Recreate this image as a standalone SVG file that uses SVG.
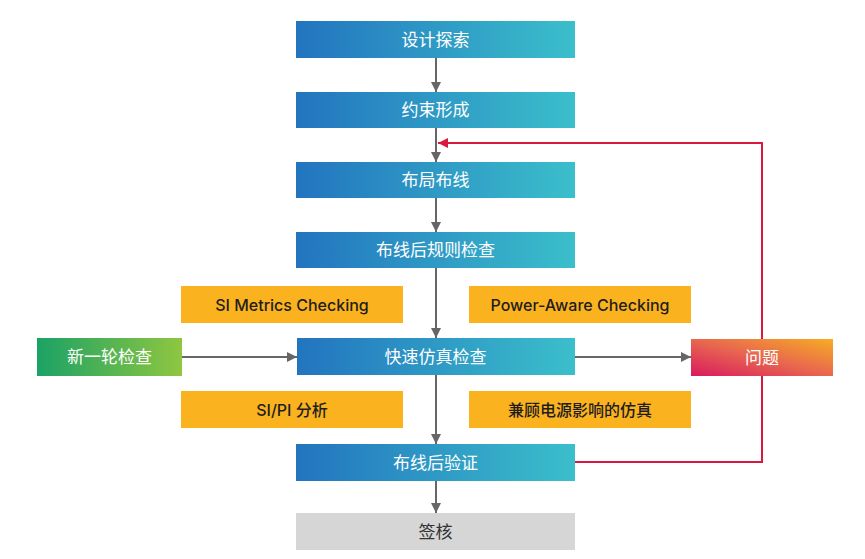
<svg xmlns="http://www.w3.org/2000/svg" width="865" height="559" viewBox="0 0 865 559">
<defs>
<linearGradient id="gBlue" x1="0" y1="0" x2="1" y2="0">
<stop offset="0" stop-color="#2274bf"/>
<stop offset="1" stop-color="#3bbfcb"/>
</linearGradient>
<linearGradient id="gGreen" x1="0" y1="0" x2="1" y2="0">
<stop offset="0" stop-color="#1ba265"/>
<stop offset="1" stop-color="#8fc640"/>
</linearGradient>
<linearGradient id="gRed" x1="0" y1="1" x2="1" y2="0">
<stop offset="0" stop-color="#d81a5e"/>
<stop offset="0.5" stop-color="#e8674f"/>
<stop offset="1" stop-color="#f7ad22"/>
</linearGradient>
<marker id="ag" viewBox="0 0 10 10" refX="10" refY="5" markerWidth="10" markerHeight="10" markerUnits="userSpaceOnUse" orient="auto">
<path d="M0,0 L10,5 L0,10 z" fill="#666"/>
</marker>
<marker id="ar" viewBox="0 0 10 10" refX="10" refY="5" markerWidth="10" markerHeight="10" markerUnits="userSpaceOnUse" orient="auto">
<path d="M0,0 L10,5 L0,10 z" fill="#d81a40"/>
</marker>
<style>
.blue{fill:url(#gBlue)}
.org{fill:#fbb21f}
.t{font-family:"Inter","Noto Sans CJK SC",sans-serif;font-size:17px;text-anchor:middle;dominant-baseline:central}
.w{fill:#ffffff}
.d{fill:#1e1e1e;font-weight:500;font-size:16px}
.g{stroke:#666;stroke-width:2;fill:none;marker-end:url(#ag)}
.r{stroke:#d81a40;stroke-width:2;fill:none;marker-end:url(#ar)}
</style>
</defs>
<rect width="865" height="559" fill="#ffffff"/>
<g id="connectors">
<line class="g" x1="436" y1="58" x2="436" y2="92"/>
<line class="g" x1="436" y1="128" x2="436" y2="162"/>
<line class="g" x1="436" y1="198" x2="436" y2="232"/>
<line class="g" x1="436" y1="268" x2="436" y2="338"/>
<line class="g" x1="436" y1="375" x2="436" y2="444"/>
<line class="g" x1="436" y1="481" x2="436" y2="513"/>
<line class="g" x1="182" y1="357" x2="297" y2="357"/>
<line class="g" x1="574" y1="357" x2="691" y2="357"/>
<polyline class="r" points="575,462 762,462 762,143 438,143"/>
</g>
<g id="n1"><rect class="blue" x="296" y="21" width="279" height="37"/><text class="t w" x="435.5" y="39.5">设计探索</text></g>
<g id="n2"><rect class="blue" x="296" y="92" width="279" height="36"/><text class="t w" x="435.5" y="110">约束形成</text></g>
<g id="n3"><rect class="blue" x="296" y="162" width="279" height="36"/><text class="t w" x="435.5" y="180">布局布线</text></g>
<g id="n4"><rect class="blue" x="296" y="232" width="279" height="36"/><text class="t w" x="435.5" y="250">布线后规则检查</text></g>
<g id="n5"><rect class="blue" x="297" y="338" width="278" height="37"/><text class="t w" x="435.5" y="356.5">快速仿真检查</text></g>
<g id="n6"><rect class="blue" x="296" y="444" width="279" height="37"/><text class="t w" x="435.5" y="462.5">布线后验证</text></g>
<g id="n7"><rect fill="#d6d6d6" x="296" y="513" width="279" height="37"/><text class="t" fill="#333" x="435.5" y="531.5">签核</text></g>
<g id="n8"><rect fill="url(#gGreen)" x="37" y="338" width="145" height="38"/><text class="t w" x="109.5" y="357">新一轮检查</text></g>
<g id="n9"><rect fill="url(#gRed)" x="691" y="339" width="142" height="37"/><text class="t w" x="762" y="357.5">问题</text></g>
<g id="n10"><rect class="org" x="181" y="286" width="222" height="37"/><text class="t d" x="292" y="304.5">SI Metrics Checking</text></g>
<g id="n11"><rect class="org" x="469" y="286" width="222" height="37"/><text class="t d" x="580" y="304.5">Power-Aware Checking</text></g>
<g id="n12"><rect class="org" x="181" y="391" width="222" height="37"/><text class="t d" x="292" y="409.5">SI/PI 分析</text></g>
<g id="n13"><rect class="org" x="469" y="391" width="222" height="37"/><text class="t d" x="580" y="409.5">兼顾电源影响的仿真</text></g>
</svg>
